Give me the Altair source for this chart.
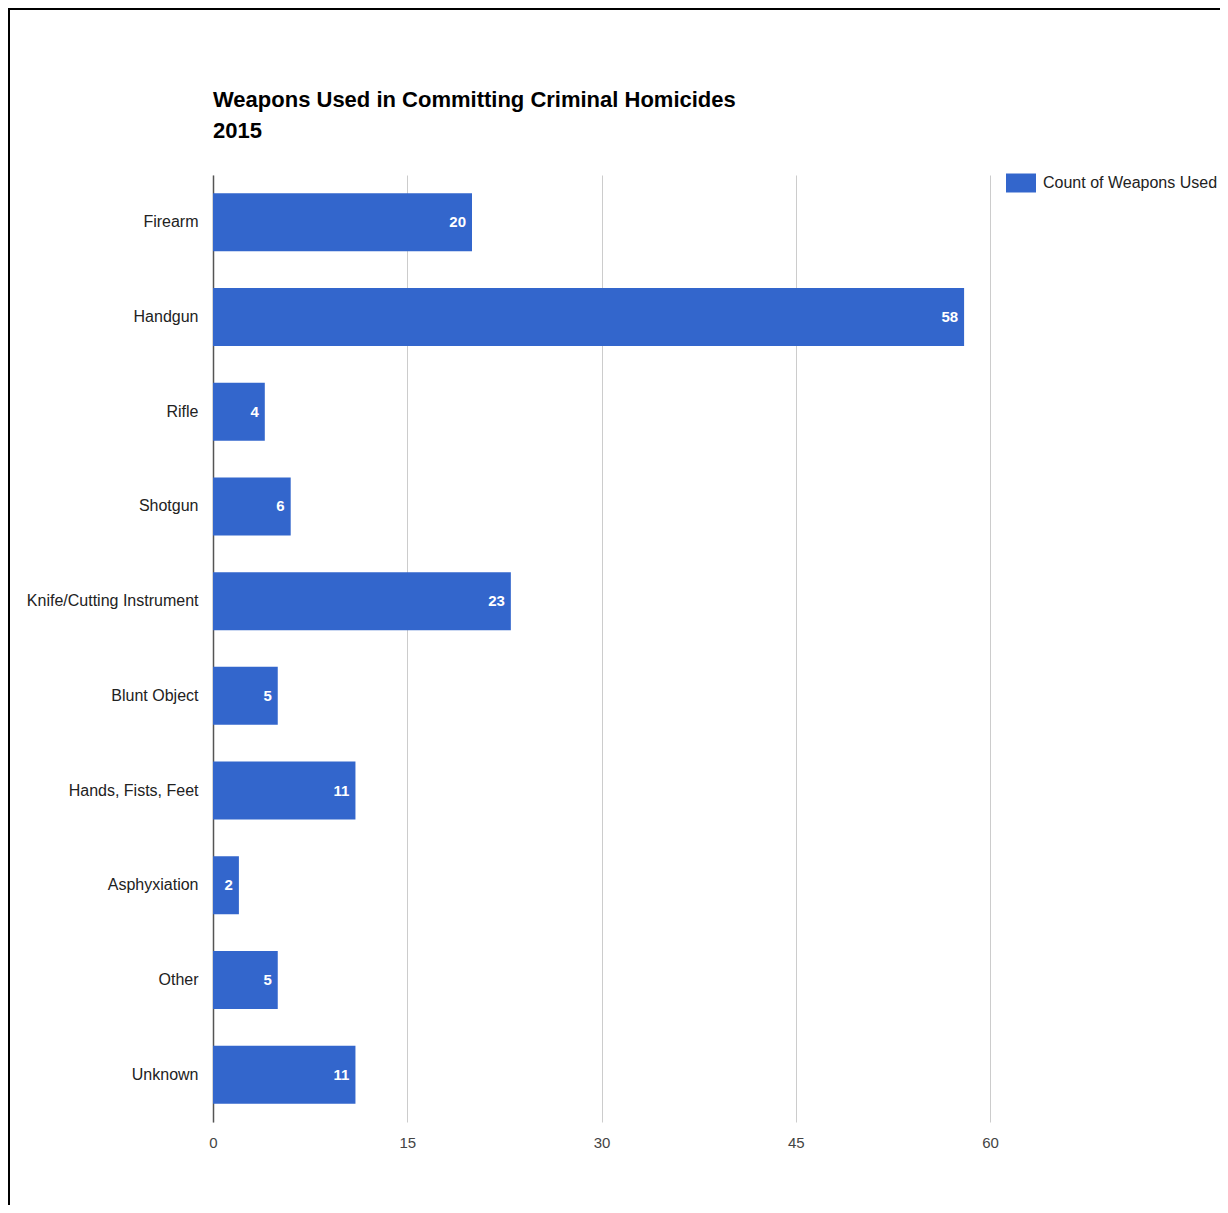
import altair as alt
import pandas as pd

categories = ["Firearm", "Handgun", "Rifle", "Shotgun", "Knife/Cutting Instrument",
              "Blunt Object", "Hands, Fists, Feet", "Asphyxiation", "Other", "Unknown"]
counts = [20, 58, 4, 6, 23, 5, 11, 2, 5, 11]
series_name = "Count of Weapons Used"
title_lines = ["Weapons Used in Committing Criminal Homicides", "2015"]
x_ticks = [0, 15, 30, 45, 60]

df = pd.DataFrame({"weapon": categories, "count": counts, "series": series_name})

FONT = "Liberation Sans"
BLUE = "#3366cc"

y_enc = alt.Y(
    "weapon:N", sort=categories, title=None,
    scale=alt.Scale(paddingInner=0.385, paddingOuter=0.1925),
    axis=alt.Axis(ticks=False, domain=True, domainColor="#555555", domainWidth=1.5,
                  labelFont=FONT, labelFontSize=16, labelColor="#222222",
                  labelPadding=15, labelLimit=400, grid=False),
)
x_enc = alt.X(
    "count:Q", title=None,
    scale=alt.Scale(domain=[0, 60], nice=False, zero=True),
    axis=alt.Axis(values=x_ticks, ticks=False, domain=False, grid=True,
                  gridColor="#cccccc", gridWidth=1, labelFont=FONT, labelFontSize=15,
                  labelColor="#444444", labelPadding=13, labelFlush=False),
)

bars = alt.Chart(df).mark_bar(size=58).encode(
    x=x_enc,
    y=y_enc,
    color=alt.Color(
        "series:N",
        scale=alt.Scale(range=[BLUE]),
        legend=alt.Legend(
            title=None, orient="none", legendX=793, legendY=-7, padding=0,
            symbolType="M-1,-0.633H1V0.633H-1Z", symbolSize=900, symbolStrokeWidth=0,
            labelFont=FONT, labelFontSize=16, labelColor="#222222", labelLimit=400,
            labelOffset=7,
        ),
    ),
)

labels = alt.Chart(df).mark_text(
    align="right", baseline="middle", dx=-6, color="white",
    fontWeight="bold", fontSize=15, font=FONT,
).encode(
    x=alt.X("count:Q"),
    y=alt.Y("weapon:N", sort=categories),
    text=alt.Text("count:Q"),
)

frame_df = pd.DataFrame({"k": [0]})
left_border = alt.Chart(frame_df).mark_rule(color="#000000", strokeWidth=2).encode(
    x=alt.value(-204), y=alt.value(-166), y2=alt.value(1030)
)
top_border = alt.Chart(frame_df).mark_rule(color="#000000", strokeWidth=2).encode(
    x=alt.value(-205), x2=alt.value(1010), y=alt.value(-166)
)

chart = alt.layer(bars, labels, left_border, top_border).properties(
    width=777,
    height=947,
    autosize=alt.AutoSizeParams(type="none"),
    padding={"left": 205, "top": 167, "right": 230, "bottom": 83},
    title=alt.TitleParams(
        text=title_lines, anchor="start", frame="group", font=FONT, fontSize=22,
        fontWeight="bold", color="#000000", lineHeight=31, offset=-135,
    ),
).configure(background="white").configure_view(stroke=None)

chart.save("out.html", embed_options={"renderer": "svg", "actions": False})
